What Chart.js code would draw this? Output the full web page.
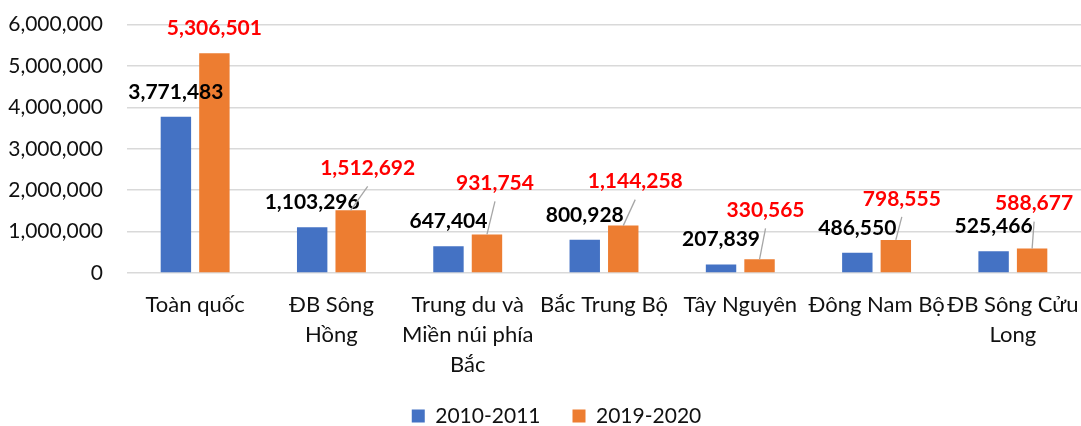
<!DOCTYPE html>
<html>
<head>
<meta charset="utf-8">
<script src="https://cdn.jsdelivr.net/npm/chart.js@4/dist/chart.umd.min.js"></script>
<style>
  html, body { margin: 0; padding: 0; background: #fff; }
  #wrap { width: 1081px; height: 426px; position: relative; }
</style>
</head>
<body>
<div id="wrap"><canvas id="chart"></canvas></div>
<script>
// ===== DATA =====
const categories = [
  ["Toàn quốc"],
  ["ĐB Sông", "Hồng"],
  ["Trung du và", "Miền núi phía", "Bắc"],
  ["Bắc Trung Bộ"],
  ["Tây Nguyên"],
  ["Đông Nam Bộ"],
  ["ĐB Sông Cửu", "Long"]
];
const seriesNames = ["2010-2011", "2019-2020"];
const values2010 = [3771483, 1103296, 647404, 800928, 207839, 486550, 525466];
const values2019 = [5306501, 1512692, 931754, 1144258, 330565, 798555, 588677];

// label nudges (dx, dy from bar top), like labels dragged by hand in Excel
const labelNudge2010 = [[0, -25], [0, -25], [0, -25], [0, -25], [0, -25], [0, -25], [0, -25]];
const labelNudge2019 = [[0, -25], [17, -42], [8, -51], [12, -44], [6, -49], [6, -41], [2, -45]];

const FONT = "Lato, 'Liberation Sans', sans-serif";
const TEXT = "#111111";

// ===== DATA LABELS + LEADER LINES =====
const barLabels = {
  id: "barLabels",
  afterDatasetsDraw(chart) {
    const ctx = chart.ctx;
    const nudges = [labelNudge2010, labelNudge2019];
    const colors = ["#000000", "#FF0000"];
    ctx.save();
    ctx.font = "bold 21px " + FONT;
    ctx.textAlign = "center";
    ctx.textBaseline = "middle";
    chart.data.datasets.forEach((ds, di) => {
      const meta = chart.getDatasetMeta(di);
      meta.data.forEach((bar, i) => {
        const [dx, dy] = nudges[di][i];
        const x = bar.x + dx;
        const y = bar.y + dy;
        // leader line when the label was moved away from its spot
        if (Math.hypot(dx, dy + 25) > 10) {
          ctx.strokeStyle = "#a6a6a6";
          ctx.lineWidth = 1.3;
          ctx.beginPath();
          ctx.moveTo(bar.x, bar.y);
          ctx.lineTo(x, y + 18);
          ctx.stroke();
        }
        ctx.fillStyle = colors[di];
        ctx.fillText(ds.data[i].toLocaleString("en-US"), x, y);
      });
    });
    ctx.restore();
  }
};

// legend sits a bit right of centre in the original
const legendShift = {
  id: "legendShift",
  afterLayout(chart) {
    const lg = chart.legend;
    lg.left += 15; lg.right += 15;
    lg.top -= 6.5; lg.bottom -= 6.5;
  }
};

// ===== CHART =====
const ctx = document.getElementById("chart").getContext("2d");

new Chart(ctx, {
  type: "bar",
  data: {
    labels: categories,
    datasets: [
      {
        label: seriesNames[0],
        data: values2010,
        backgroundColor: "#4472C4",
        categoryPercentage: 0.565,
        barPercentage: 0.79
      },
      {
        label: seriesNames[1],
        data: values2019,
        backgroundColor: "#ED7D31",
        categoryPercentage: 0.565,
        barPercentage: 0.79
      }
    ]
  },
  options: {
    responsive: true,
    maintainAspectRatio: false,
    animation: false,
    layout: { padding: { top: 24.5, right: -2, bottom: -17, left: 0 } },
    plugins: {
      tooltip: { enabled: false },
      legend: {
        position: "bottom",
        labels: {
          boxWidth: 13,
          boxHeight: 13,
          padding: 32,
          color: TEXT,
          font: { family: FONT, size: 21 }
        }
      }
    },
    scales: {
      x: {
        grid: { display: false, drawTicks: false },
        border: { display: false },
        ticks: {
          color: TEXT,
          padding: 17,
          maxRotation: 0,
          autoSkip: false,
          font: { family: FONT, size: 22, lineHeight: "30px" }
        },
        afterFit(scale) {
          scale.height = 107;
          scale.paddingLeft = 0;
          scale.paddingRight = 0;
        }
      },
      y: {
        min: 0,
        max: 6000000,
        grid: { color: "#d9d9d9", lineWidth: 1.5, drawTicks: false },
        border: { display: false },
        ticks: {
          stepSize: 1000000,
          color: TEXT,
          padding: 24,
          font: { family: FONT, size: 21 },
          callback: (v) => v.toLocaleString("en-US")
        },
        afterFit(scale) {
          scale.width = 127;
          scale.paddingTop = 0;
          scale.paddingBottom = 0;
        }
      }
    }
  },
  plugins: [barLabels, legendShift]
});
</script>
</body>
</html>
